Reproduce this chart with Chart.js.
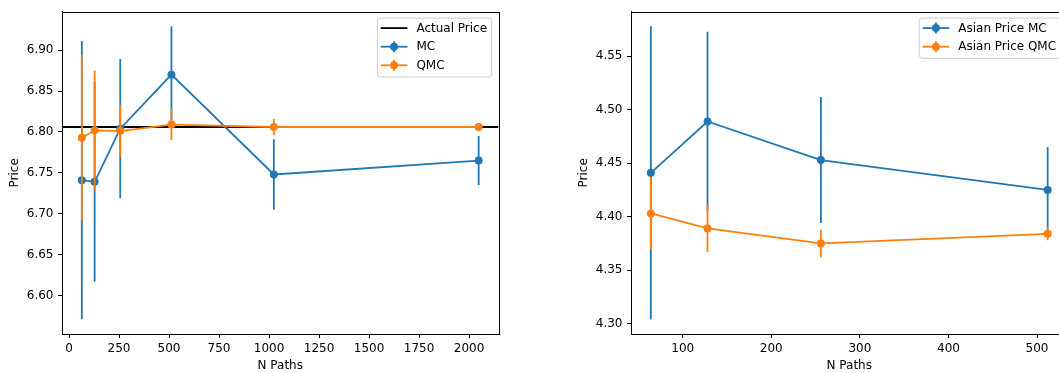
<!DOCTYPE html>
<html>
<head>
<meta charset="utf-8">
<script src="https://cdn.jsdelivr.net/npm/chart.js@4.4.1/dist/chart.umd.min.js"></script>
<style>
    body { margin: 0; background: #fff; }
    #wrap { position: relative; width: 1059px; height: 373px; overflow: hidden; }
    canvas { position: absolute; top: 0; }
</style>
</head>
<body>
<div id="wrap">
    <canvas id="euroChart" width="530" height="373" style="left:0px"></canvas>
    <canvas id="asianChart" width="530" height="373" style="left:569px"></canvas>
</div>
<script>
// European option: price estimates vs number of paths
const nPaths = [64, 128, 256, 512, 1024, 2048];
const mcPrice = [6.741, 6.739, 6.804, 6.870, 6.748, 6.765];
const mcErr = [0.170, 0.122, 0.085, 0.059, 0.043, 0.030];
const qmcPrice = [6.793, 6.802, 6.801, 6.809, 6.806, 6.806];
const qmcErr = [0.101, 0.073, 0.032, 0.019, 0.010, 0.005];
const actualPrice = 6.806;
const euroXTicks = [0, 250, 500, 750, 1000, 1250, 1500, 1750, 2000];
const euroYTicks = [6.60, 6.65, 6.70, 6.75, 6.80, 6.85, 6.90];

// Asian option
const asianPaths = [64, 128, 256, 512];
const asianMc = [4.441, 4.489, 4.453, 4.425];
const asianMcErr = [0.137, 0.084, 0.059, 0.040];
const asianQmc = [4.403, 4.389, 4.375, 4.384];
const asianQmcErr = [0.034, 0.022, 0.013, 0.006];
const asianXTicks = [100, 200, 300, 400, 500];
const asianYTicks = [4.30, 4.35, 4.40, 4.45, 4.50, 4.55];

const BLUE = "#1f77b4";
const ORANGE = "#ff7f0e";
const FONT = { family: "DejaVu Sans", size: 12 };

// matplotlib style autoscale: 5% margin around data (incl. error bars)
function limits(values) {
    const lo = Math.min(...values), hi = Math.max(...values);
    const m = (hi - lo) * 0.05;
    return [lo - m, hi + m];
}

function points(xs, ys) {
    return xs.map((x, i) => ({ x: x, y: ys[i] }));
}

function errorSpan(vals, errs) {
    return vals.map((v, i) => v - errs[i]).concat(vals.map((v, i) => v + errs[i]));
}

// vertical error bars, drawn just before each dataset's line and markers
const errorBars = {
    id: "errorBars",
    beforeDatasetDraw(chart, args) {
        const ds = chart.data.datasets[args.index];
        if (!ds.errors) return;
        const ctx = chart.ctx;
        const xs = chart.scales.x, ys = chart.scales.y;
        ctx.save();
        ctx.strokeStyle = ds.borderColor;
        ctx.lineWidth = ds.borderWidth;
        ds.data.forEach((p, i) => {
            const px = xs.getPixelForValue(p.x);
            ctx.beginPath();
            ctx.moveTo(px, ys.getPixelForValue(p.y - ds.errors[i]));
            ctx.lineTo(px, ys.getPixelForValue(p.y + ds.errors[i]));
            ctx.stroke();
        });
        ctx.restore();
    }
};

// axes frame + upper right legend box
const frameAndLegend = {
    id: "frameAndLegend",
    afterDraw(chart) {
        const ctx = chart.ctx;
        const a = chart.chartArea;
        ctx.save();
        ctx.strokeStyle = "#000";
        ctx.lineWidth = 1;
        ctx.strokeRect(Math.round(a.left) + 0.5, Math.round(a.top) + 0.5,
            Math.round(a.right - a.left), Math.round(a.bottom - a.top));

        const items = chart.data.datasets;
        ctx.font = "12px 'DejaVu Sans'";
        const textW = Math.max(...items.map(d => ctx.measureText(d.label).width));
        const w = 43.7 + textW;
        const rowH = 18.6;
        const h = 21.6 + rowH * (items.length - 1);
        const right = a.right - 6.7, top = a.top + 6.4;
        const left = right - w;

        ctx.beginPath();
        ctx.roundRect(left, top, w, h, 3);
        ctx.fillStyle = "rgba(255,255,255,0.8)";
        ctx.fill();
        ctx.strokeStyle = "#cccccc";
        ctx.stroke();

        items.forEach((d, i) => {
            const cy = top + 10 + i * rowH;
            const x0 = left + 3.3, x1 = x0 + 26.7, cx = (x0 + x1) / 2;
            ctx.strokeStyle = d.borderColor;
            ctx.lineWidth = d.borderWidth;
            ctx.beginPath();
            ctx.moveTo(x0, cy);
            ctx.lineTo(x1, cy);
            ctx.stroke();
            if (d.errors) {
                ctx.beginPath();
                ctx.moveTo(cx, cy - 5.5);
                ctx.lineTo(cx, cy + 5.5);
                ctx.stroke();
                ctx.fillStyle = d.borderColor;
                ctx.beginPath();
                ctx.arc(cx, cy, 4, 0, Math.PI * 2);
                ctx.fill();
            }
            ctx.fillStyle = "#000";
            ctx.textBaseline = "middle";
            ctx.textAlign = "left";
            ctx.fillText(d.label, x1 + 9, cy + 0.5);
        });
        ctx.restore();
    }
};

function series(label, xs, ys, errs, color, order) {
    return {
        label: label,
        data: points(xs, ys),
        errors: errs,
        borderColor: color,
        backgroundColor: color,
        borderWidth: 1.8,
        pointRadius: 4,
        pointBorderWidth: 0,
        pointBackgroundColor: color,
        tension: 0,
        order: order
    };
}

function drawChart(canvasId, datasets, xLim, yLim, xTicks, yTicks) {
    const axisGrid = {
        display: true,
        drawOnChartArea: false,
        drawTicks: true,
        tickLength: 4,
        color: "#000",
        lineWidth: 1
    };
    return new Chart(document.getElementById(canvasId), {
        type: "line",
        data: { datasets: datasets },
        plugins: [errorBars, frameAndLegend],
        options: {
            responsive: false,
            animation: false,
            layout: { padding: { left: 0, top: 9, right: 31.5, bottom: 0 } },
            plugins: { legend: { display: false }, tooltip: { enabled: false } },
            scales: {
                x: {
                    type: "linear",
                    min: xLim[0],
                    max: xLim[1],
                    grid: axisGrid,
                    border: { display: true, color: "#000", width: 1 },
                    afterBuildTicks: s => { s.ticks = xTicks.map(v => ({ value: v })); },
                    ticks: {
                        autoSkip: false,
                        maxRotation: 0,
                        padding: 4,
                        color: "#000",
                        font: FONT,
                        callback: v => v.toFixed(0)
                    },
                    title: { display: true, text: "N Paths", color: "#000", font: FONT, padding: { top: 0, bottom: 0 } },
                    afterFit: s => { s.height = 39; }
                },
                y: {
                    type: "linear",
                    min: yLim[0],
                    max: yLim[1],
                    grid: axisGrid,
                    border: { display: true, color: "#000", width: 1 },
                    afterBuildTicks: s => { s.ticks = yTicks.map(v => ({ value: v })); },
                    ticks: {
                        autoSkip: false,
                        padding: 4.5,
                        color: "#000",
                        font: FONT,
                        callback: v => v.toFixed(2)
                    },
                    title: { display: true, text: "Price", color: "#000", font: FONT, padding: { top: 8, bottom: 0 } },
                    afterFit: s => { s.width = 62; }
                }
            }
        }
    });
}

// left: European option
const euroX = limits(nPaths);
const euroY = limits(errorSpan(mcPrice, mcErr).concat(errorSpan(qmcPrice, qmcErr)));
drawChart("euroChart", [
    {
        label: "Actual Price",
        data: [{ x: euroX[0], y: actualPrice }, { x: euroX[1], y: actualPrice }],
        borderColor: "#000",
        backgroundColor: "#000",
        borderWidth: 1.8,
        pointRadius: 0,
        order: 3
    },
    series("MC", nPaths, mcPrice, mcErr, BLUE, 2),
    series("QMC", nPaths, qmcPrice, qmcErr, ORANGE, 1)
], euroX, euroY, euroXTicks, euroYTicks);

// right: Asian option
const asianX = limits(asianPaths);
const asianY = limits(errorSpan(asianMc, asianMcErr).concat(errorSpan(asianQmc, asianQmcErr)));
drawChart("asianChart", [
    series("Asian Price MC", asianPaths, asianMc, asianMcErr, BLUE, 2),
    series("Asian Price QMC", asianPaths, asianQmc, asianQmcErr, ORANGE, 1)
], asianX, asianY, asianXTicks, asianYTicks);
</script>
</body>
</html>
